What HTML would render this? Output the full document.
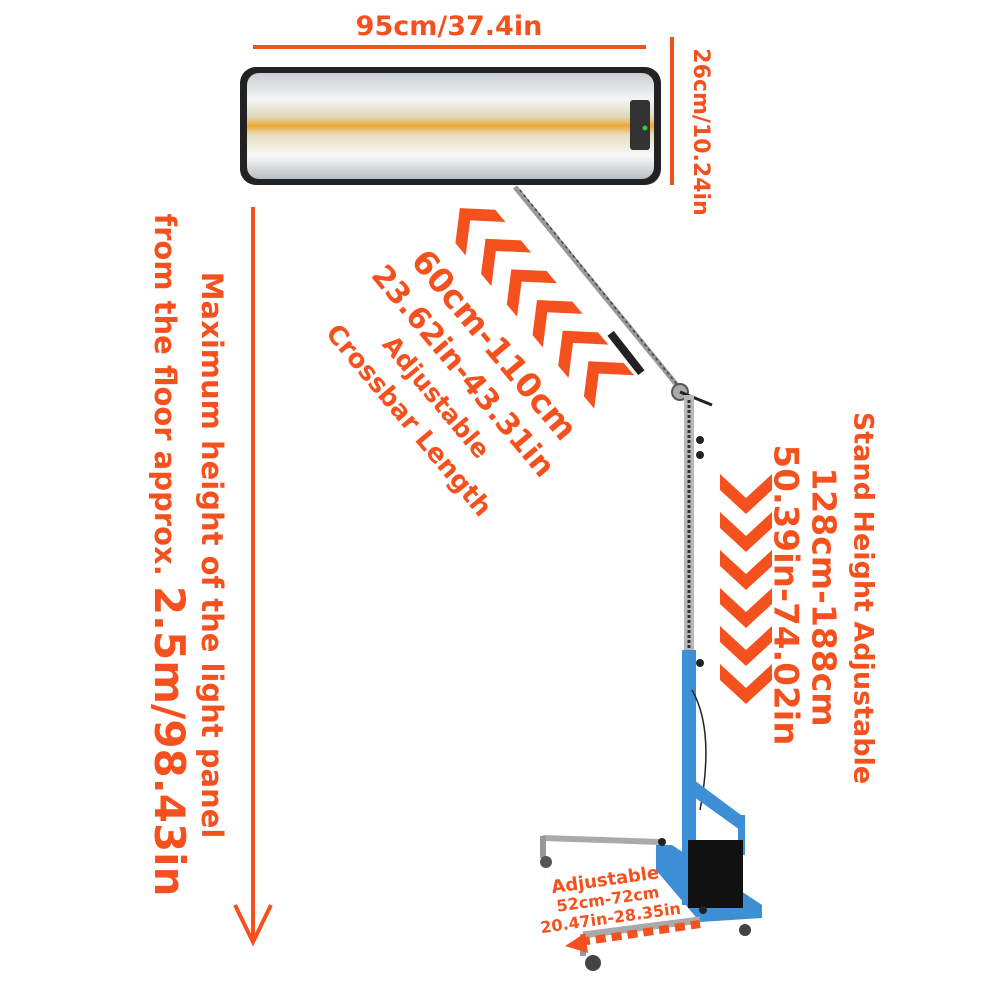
<!DOCTYPE html>
<html><head><meta charset="utf-8"><style>
html,body{margin:0;padding:0;background:#fff}
svg{display:block}
text{font-family:"DejaVu Sans","Liberation Sans",sans-serif;font-weight:bold;fill:#f4511e}
</style></head><body>
<svg width="1000" height="1000" viewBox="0 0 1000 1000" xmlns="http://www.w3.org/2000/svg">
<defs>
<linearGradient id="pg" x1="0" y1="0" x2="0" y2="1">
<stop offset="0" stop-color="#c9ced2"/><stop offset="0.25" stop-color="#f4f6f6"/>
<stop offset="0.42" stop-color="#e0d6b8"/><stop offset="0.5" stop-color="#f0a830"/>
<stop offset="0.58" stop-color="#e6dcc0"/><stop offset="0.78" stop-color="#f8f8f8"/>
<stop offset="1" stop-color="#b9bec2"/></linearGradient>
<g id="chev"><polygon points="0,0 24,26 0,52 16,52 40,26 16,0" fill="#f4511e"/></g>
</defs>
<!-- top dimension -->
<text x="449" y="35" font-size="27" text-anchor="middle">95cm/37.4in</text>
<rect x="253" y="45" width="393" height="4" fill="#f4511e"/>
<!-- panel -->
<rect x="240" y="67" width="421" height="118" rx="16" fill="#222"/>
<rect x="247" y="73" width="407" height="106" rx="12" fill="url(#pg)"/>
<rect x="630" y="100" width="20" height="50" rx="3" fill="#333"/>
<circle cx="645" cy="128" r="2.5" fill="#3c3"/>
<!-- right dim -->
<rect x="670" y="37" width="4" height="148" fill="#f4511e"/>
<text transform="translate(694,132) rotate(90)" font-size="22" text-anchor="middle">26cm/10.24in</text>
<!-- left arrow -->
<rect x="251" y="207" width="4" height="735" fill="#f4511e"/>
<polyline points="235,905 253,942 271,905" fill="none" stroke="#f4511e" stroke-width="4"/>
<text transform="translate(202,555) rotate(90)" font-size="29" text-anchor="middle">Maximum height of the light panel</text>
<text transform="translate(155,555) rotate(90)" font-size="29" text-anchor="middle">from the floor approx. <tspan font-size="42">2.5m/98.43in</tspan></text>
<!-- crossbar -->
<line x1="515" y1="187" x2="685" y2="395" stroke="#999" stroke-width="5"/>
<line x1="520" y1="190" x2="688" y2="398" stroke="#444" stroke-width="1.5" stroke-dasharray="3 3"/>
<rect x="622" y="328" width="8" height="50" fill="#222" transform="rotate(-38 626 353)"/>
<circle cx="680" cy="392" r="8" fill="#aaa" stroke="#555" stroke-width="2"/>
<line x1="680" y1="392" x2="712" y2="405" stroke="#222" stroke-width="3"/>
<!-- pole -->
<rect x="684" y="395" width="10" height="260" fill="#b8b8b8"/>
<line x1="689" y1="400" x2="689" y2="650" stroke="#333" stroke-width="3" stroke-dasharray="3 2"/>
<circle cx="700" cy="440" r="4" fill="#222"/><circle cx="700" cy="455" r="4" fill="#222"/>
<rect x="682" y="650" width="14" height="255" fill="#3d8fd6"/>
<circle cx="700" cy="663" r="4" fill="#222"/>
<path d="M692 690 Q715 730 700 810" fill="none" stroke="#222" stroke-width="1.5"/>
<polygon points="694,780 745,818 745,830 740,830 694,797" fill="#3d8fd6"/>
<rect x="738" y="815" width="7" height="40" fill="#3d8fd6"/>
<polygon points="656,845 672,845 762,905 762,918 700,922 656,870" fill="#3d8fd6"/>
<rect x="688" y="840" width="55" height="68" fill="#111"/>
<line x1="543" y1="838" x2="660" y2="842" stroke="#aaa" stroke-width="6"/>
<rect x="540" y="836" width="6" height="22" fill="#999"/>
<circle cx="546" cy="862" r="6" fill="#555"/>
<line x1="583" y1="935" x2="700" y2="920" stroke="#aaa" stroke-width="7"/>
<rect x="580" y="934" width="6" height="22" fill="#999"/>
<circle cx="593" cy="963" r="8" fill="#444"/>
<circle cx="745" cy="930" r="6" fill="#444"/>
<circle cx="662" cy="842" r="4" fill="#222"/><circle cx="703" cy="910" r="4" fill="#222"/>
<!-- crossbar chevrons & text -->
<g transform="translate(537,300) rotate(-130)">
<use href="#chev" x="-120" y="-26"/><use href="#chev" x="-80" y="-26"/><use href="#chev" x="-40" y="-26"/>
<use href="#chev" x="0" y="-26"/><use href="#chev" x="40" y="-26"/><use href="#chev" x="80" y="-26"/>
</g>
<text transform="translate(493,346) rotate(50)" font-size="33" text-anchor="middle" dominant-baseline="middle">60cm-110cm</text>
<text transform="translate(462,372) rotate(50)" font-size="30" text-anchor="middle" dominant-baseline="middle">23.62in-43.31in</text>
<text transform="translate(435,398) rotate(50)" font-size="25" text-anchor="middle" dominant-baseline="middle">Adjustable</text>
<text transform="translate(408,421) rotate(50)" font-size="26" text-anchor="middle" dominant-baseline="middle">Crossbar Length</text>
<!-- stand height -->
<g transform="translate(746,592) rotate(90)">
<use href="#chev" x="-118" y="-26"/><use href="#chev" x="-80" y="-26"/><use href="#chev" x="-42" y="-26"/>
<use href="#chev" x="-4" y="-26"/><use href="#chev" x="34" y="-26"/><use href="#chev" x="72" y="-26"/>
</g>
<text transform="translate(862,598) rotate(90)" font-size="27" text-anchor="middle" dominant-baseline="middle">Stand Height Adjustable</text>
<text transform="translate(822,597) rotate(90)" font-size="33" text-anchor="middle" dominant-baseline="middle">128cm-188cm</text>
<text transform="translate(784,595) rotate(90)" font-size="34" text-anchor="middle" dominant-baseline="middle">50.39in-74.02in</text>
<!-- bottom -->
<g transform="rotate(-8 605 900)">
<text x="608" y="886" font-size="18" text-anchor="middle">Adjustable</text>
<text x="608" y="905" font-size="16" text-anchor="middle">52cm-72cm</text>
<text x="608" y="924" font-size="16" text-anchor="middle">20.47in-28.35in</text>
</g>
<line x1="580" y1="942" x2="700" y2="924" stroke="#f4511e" stroke-width="8" stroke-dasharray="10 6"/>
<polygon points="565,946 585,933 588,953" fill="#f4511e"/>
</svg>
</body></html>
